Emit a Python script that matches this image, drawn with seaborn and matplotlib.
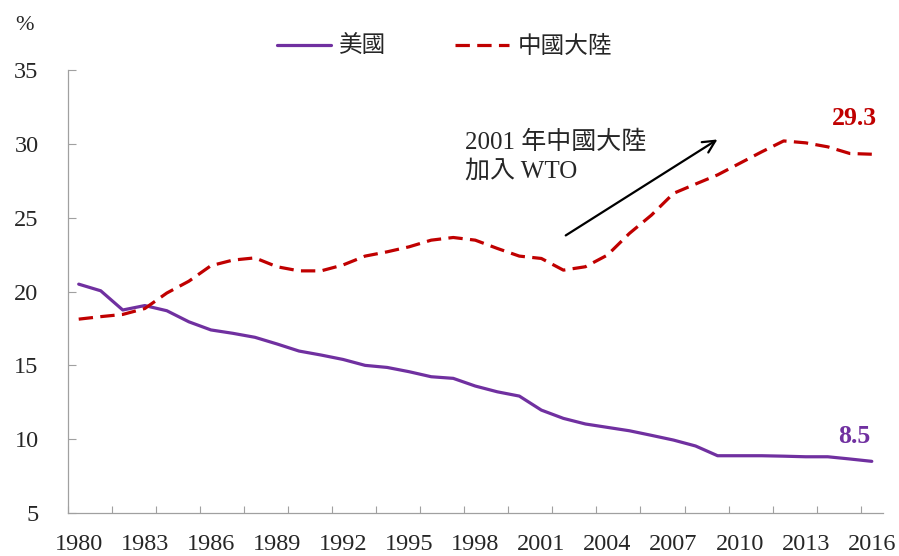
import matplotlib
matplotlib.use("Agg")
import matplotlib.pyplot as plt
import pandas as pd
import seaborn as sns
from matplotlib.ticker import FixedLocator

# ---------------------------------------------------------------------------
# Data (share of world, %)
# ---------------------------------------------------------------------------
years = list(range(1980, 2017))
us = [20.5, 20.05, 18.75, 19.05, 18.7, 17.95, 17.4, 17.17, 16.9, 16.45,
      15.97, 15.7, 15.4, 15.0, 14.86, 14.57, 14.23, 14.12, 13.6, 13.21,
      12.92, 11.97, 11.41, 11.03, 10.8, 10.57, 10.26, 9.94, 9.54, 8.88,
      8.88, 8.88, 8.85, 8.81, 8.81, 8.66, 8.5]
china = [18.13, 18.3, 18.45, 18.85, 19.9, 20.7, 21.75, 22.13, 22.28, 21.68,
         21.4, 21.4, 21.8, 22.4, 22.69, 23.03, 23.48, 23.66, 23.48, 22.92,
         22.4, 22.24, 21.45, 21.68, 22.47, 23.94, 25.18, 26.65, 27.28, 27.9,
         28.68, 29.46, 30.2, 30.07, 29.8, 29.35, 29.3]

label_us = "美國"
label_cn = "中國大陸"
note_text = "2001 年中國大陸\n加入 WTO"

PURPLE = "#7030A0"
RED = "#C00000"

df = pd.DataFrame({"year": years, "us": us, "china": china})

# ---------------------------------------------------------------------------
# Style
# ---------------------------------------------------------------------------
sns.set_style("white")
plt.rcParams["font.family"] = ["Liberation Serif", "Noto Sans CJK TC"]
plt.rcParams["axes.unicode_minus"] = False

fig = plt.figure(figsize=(8.99, 5.56), dpi=100)
ax = fig.add_axes([0.0753, 0.0773, 0.9067, 0.7967])

sns.lineplot(data=df, x="year", y="us", ax=ax, color=PURPLE, lw=2.3,
             label=label_us)
sns.lineplot(data=df, x="year", y="china", ax=ax, color=RED, lw=2.3,
             dashes=False, label=label_cn)
ax.lines[1].set_dashes((4.5, 2.3))

ax.set_xlim(1979.5, 2016.5)
ax.set_ylim(5, 35)
ax.set_xlabel("")
ax.set_ylabel("")

# x: labels every 3 years, tick marks every 2 categories
ax.set_xticks(years[::3])
ax.set_xticklabels([str(y) for y in years[::3]])
ax.xaxis.set_minor_locator(FixedLocator([1979.5 + 2 * k for k in range(19)]))
ax.tick_params(axis="x", which="major", length=0, pad=15, labelsize=17.5)
ax.tick_params(axis="x", which="minor", direction="in", length=5,
               width=0.8, color="#A0A0A0", bottom=True)
ax.set_yticks(range(5, 36, 5))
ax.tick_params(axis="y", direction="in", length=6, width=0.8,
               color="#A0A0A0", pad=21, labelsize=17.5, left=True)

for side in ["top", "right"]:
    ax.spines[side].set_visible(False)
for side in ["left", "bottom"]:
    ax.spines[side].set_color("#A0A0A0")
    ax.spines[side].set_linewidth(0.9)

# legend
ax.legend(loc="center", bbox_to_anchor=(0.462, 1.052), ncol=2, frameon=False,
          fontsize=17, handlelength=2.3, handletextpad=0.35,
          columnspacing=2.9)

# annotation
ax.annotate("", xy=(2009.1, 30.4), xytext=(2002.0, 23.7),
            arrowprops=dict(arrowstyle="->", color="black", lw=1.6,
                            mutation_scale=22))
ax.text(1997.55, 29.15, note_text, ha="left", va="center", fontsize=18,
        linespacing=1.3)

ax.text(2015.2, 31.7, "29.3", color=RED, fontsize=18.5, fontweight="bold",
        ha="center", va="center")
ax.text(2015.2, 10.17, "8.5", color=PURPLE, fontsize=18.5, fontweight="bold",
        ha="center", va="center")

fig.text(24 / 899, 1 - 26 / 556, "%", ha="center", va="center", fontsize=16)

plt.savefig("out.png", dpi=100)
plt.close()
